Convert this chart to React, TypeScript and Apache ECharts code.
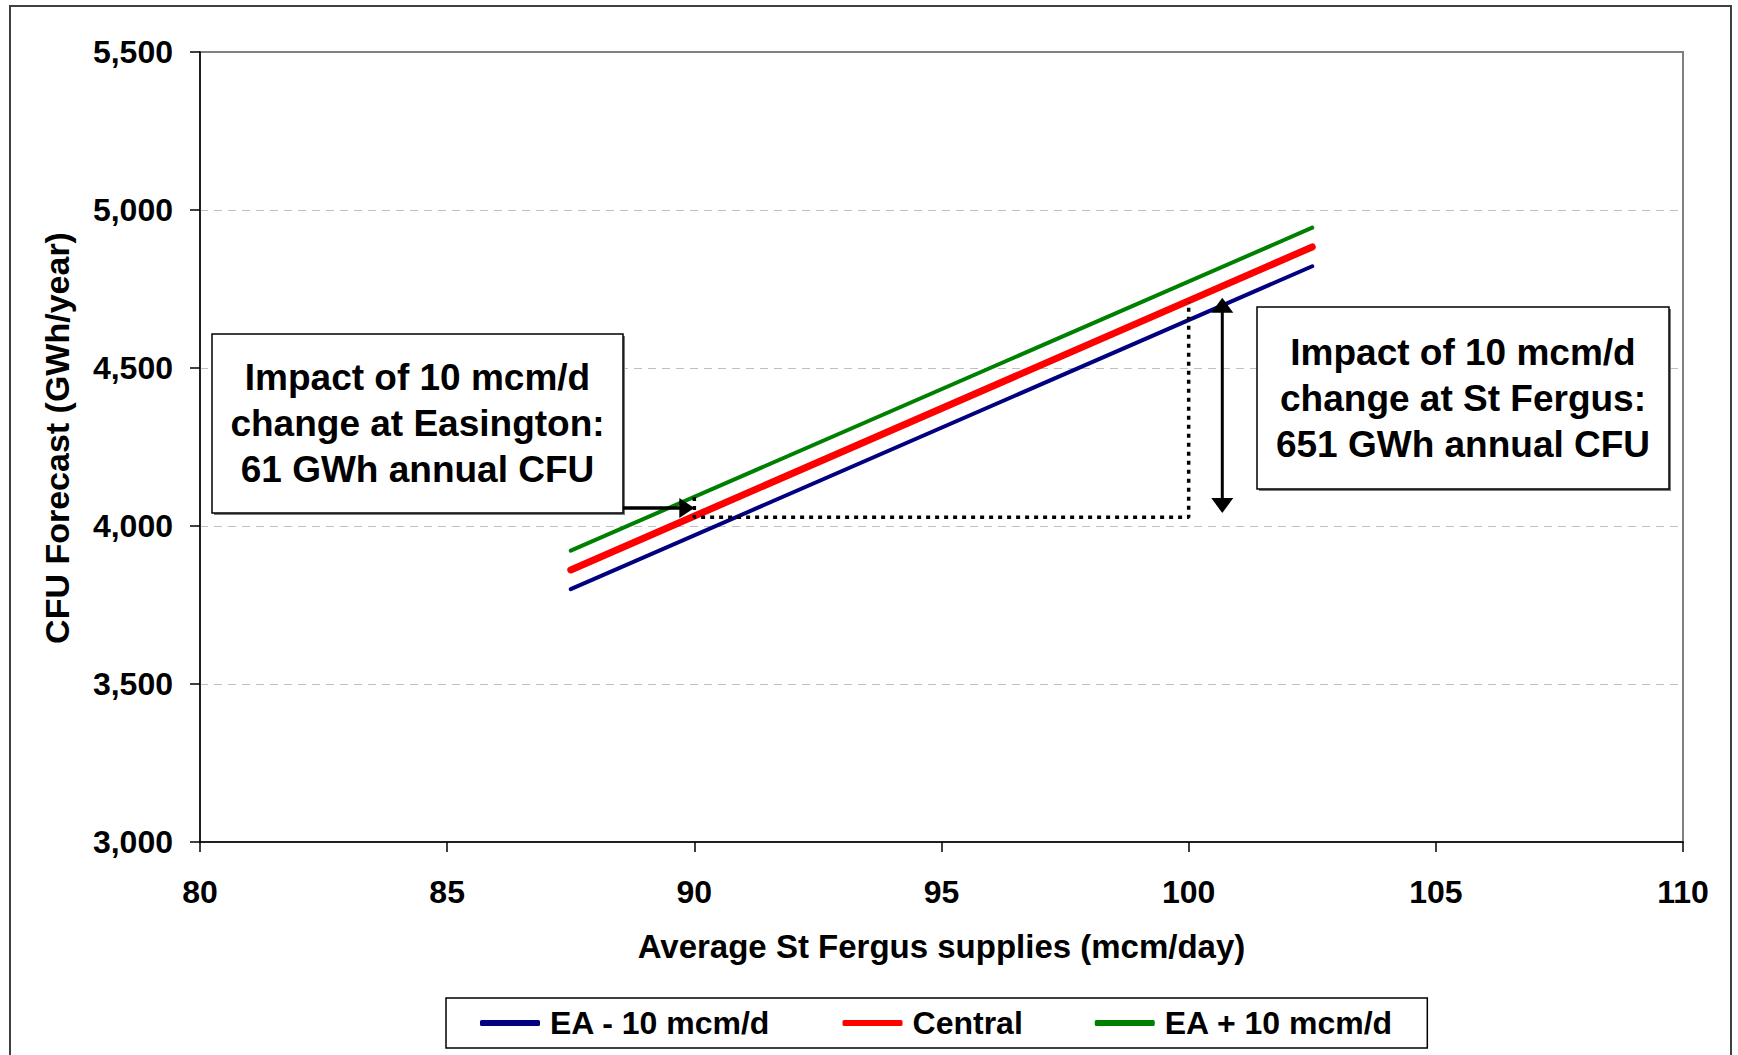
import React, { useEffect, useRef } from "react";
import * as echarts from "echarts";

// Axis ranges
const X_MIN = 80;
const X_MAX = 110;
const X_STEP = 5;
const Y_MIN = 3000;
const Y_MAX = 5500;
const Y_STEP = 500;

// Average St Fergus supplies (mcm/day) at the ends of each scenario line
const supplies = [87.5, 102.5];

// CFU forecast (GWh/year) per scenario
const cfuEaMinus = [3800, 4822];
const cfuCentral = [3861, 4883];
const cfuEaPlus = [3922, 4944];

const seriesNames = ["EA - 10 mcm/d", "Central", "EA + 10 mcm/d"];
const seriesColors = ["#000080", "#FF0000", "#008000"];

// Dotted guide following the central case from 90 to 100 mcm/d
const guideSupplies = [90, 90, 100, 100];
const guideCfu = [4092, 4028, 4028, 4709];

// Arrow anchors in data units
const easingtonArrowX = 90;
const easingtonArrowY = 4057;
const stFergusArrowX = 100.68;
const stFergusArrowLow = 4041;
const stFergusArrowHigh = 4722;

const easingtonNote = ["Impact of 10 mcm/d", "change at Easington:", "61 GWh annual CFU"];
const stFergusNote = ["Impact of 10 mcm/d", "change at St Fergus:", "651 GWh annual CFU"];

const FONT = '"Liberation Sans", Arial, Helvetica, sans-serif';

const pairs = (xs: number[], ys: number[]) => xs.map((x, i) => [x, ys[i]]);

export default function App() {
  const ref = useRef<HTMLDivElement>(null);

  useEffect(() => {
    if (!ref.current) return;
    const chart = echarts.init(ref.current, undefined, { renderer: "svg" });

    const lineSeries = [cfuEaMinus, cfuCentral, cfuEaPlus].map((vals, i) => ({
      name: seriesNames[i],
      type: "line",
      data: pairs(supplies, vals),
      symbol: "none",
      z: 3,
      lineStyle: { color: seriesColors[i], width: i === 1 ? 7 : 4, cap: "round" },
      itemStyle: { color: seriesColors[i] },
    }));

    chart.setOption({
      animation: false,
      backgroundColor: "#ffffff",
      textStyle: { fontFamily: FONT },
      grid: {
        left: 200,
        top: 52,
        width: 1483,
        height: 790,
        show: true,
        borderColor: "#808080",
        borderWidth: 2,
        backgroundColor: "transparent",
      },
      xAxis: {
        type: "value",
        min: X_MIN,
        max: X_MAX,
        interval: X_STEP,
        name: "Average St Fergus supplies (mcm/day)",
        nameLocation: "middle",
        nameGap: 88,
        nameTextStyle: { fontSize: 33, fontWeight: "bold", color: "#000", fontFamily: FONT },
        axisLine: { show: true, onZero: false, lineStyle: { color: "#000", width: 1.5 } },
        axisTick: { show: true, inside: false, length: 10, lineStyle: { color: "#000", width: 1.5 } },
        axisLabel: { fontSize: 32, fontWeight: "bold", color: "#000", margin: 34, fontFamily: FONT },
        splitLine: { show: false },
      },
      yAxis: {
        type: "value",
        min: Y_MIN,
        max: Y_MAX,
        interval: Y_STEP,
        name: "CFU Forecast (GWh/year)",
        nameLocation: "middle",
        nameGap: 126,
        nameTextStyle: {
          fontSize: 34,
          fontWeight: "bold",
          color: "#000",
          fontFamily: FONT,
          padding: [0, 0, 0, 18],
        },
        axisLine: { show: true, onZero: false, lineStyle: { color: "#000", width: 1.5 } },
        axisTick: { show: true, inside: false, length: 10, lineStyle: { color: "#000", width: 1.5 } },
        axisLabel: {
          fontSize: 32,
          fontWeight: "bold",
          color: "#000",
          margin: 27,
          fontFamily: FONT,
          formatter: (v: number) => v.toLocaleString("en-US"),
        },
        splitLine: {
          show: true,
          showMinLine: false,
          showMaxLine: false,
          lineStyle: { color: "#C0C0C0", width: 1, type: [8, 6] },
        },
      },
      legend: {
        data: seriesNames.map((name) => ({ name, icon: "roundRect" })),
        left: 446,
        top: 998,
        padding: [9, 34, 9, 34],
        itemGap: 72,
        itemWidth: 60,
        itemHeight: 6,
        borderColor: "#000",
        borderWidth: 1.5,
        borderRadius: 0,
        backgroundColor: "#ffffff",
        textStyle: {
          fontSize: 32,
          fontWeight: "bold",
          color: "#000",
          fontFamily: FONT,
          padding: [0, 0, 0, 5],
        },
      },
      series: [
        ...lineSeries,
        {
          name: "guide",
          type: "line",
          data: pairs(guideSupplies, guideCfu),
          symbol: "none",
          z: 4,
          lineStyle: { color: "#000", width: 3.5, type: [4, 5] },
          tooltip: { show: false },
        },
      ],
    });

    const px = (x: number, y: number) => chart.convertToPixel({ gridIndex: 0 }, [x, y]) as number[];

    const leftBox = { x: 212, y: 334, w: 411, h: 179 };
    const rightBox = { x: 1257, y: 307, w: 412, h: 182 };

    const [tipX, tipY] = px(easingtonArrowX, easingtonArrowY);
    const [ax, ayTop] = px(stFergusArrowX, stFergusArrowHigh);
    const [, ayBot] = px(stFergusArrowX, stFergusArrowLow);

    const noteBox = (b: { x: number; y: number; w: number; h: number }, lines: string[]) => [
      {
        type: "rect",
        z: 100,
        shape: { x: b.x + 2, y: b.y + 2, width: b.w, height: b.h },
        style: { fill: "#7a7a7a" },
      },
      {
        type: "rect",
        z: 101,
        shape: { x: b.x, y: b.y, width: b.w, height: b.h },
        style: { fill: "#ffffff", stroke: "#000", lineWidth: 1.5 },
      },
      {
        type: "text",
        z: 102,
        x: b.x + b.w / 2,
        y: b.y + b.h / 2,
        style: {
          text: lines.join("\n"),
          fill: "#000",
          fontSize: 37,
          fontWeight: "bold",
          fontFamily: FONT,
          align: "center",
          verticalAlign: "middle",
          lineHeight: 46,
        },
      },
    ];

    const headLen = 15;
    const headHalf = 10;

    chart.setOption({
      graphic: [
        {
          type: "rect",
          z: 200,
          silent: true,
          shape: { x: 10, y: 6, width: 1721, height: 1070 },
          style: { fill: "none", stroke: "#404040", lineWidth: 2 },
        },
        ...noteBox(leftBox, easingtonNote),
        ...noteBox(rightBox, stFergusNote),
        // Easington arrow
        {
          type: "line",
          z: 103,
          shape: { x1: leftBox.x + leftBox.w, y1: tipY, x2: tipX - headLen + 2, y2: tipY },
          style: { stroke: "#000", lineWidth: 3.5 },
        },
        {
          type: "polygon",
          z: 103,
          shape: {
            points: [
              [tipX, tipY],
              [tipX - headLen, tipY - headHalf],
              [tipX - headLen, tipY + headHalf],
            ],
          },
          style: { fill: "#000" },
        },
        // St Fergus double arrow
        {
          type: "line",
          z: 103,
          shape: { x1: ax, y1: ayTop + headLen - 2, x2: ax, y2: ayBot - headLen + 2 },
          style: { stroke: "#000", lineWidth: 3 },
        },
        {
          type: "polygon",
          z: 103,
          shape: {
            points: [
              [ax, ayTop],
              [ax - headHalf - 1, ayTop + headLen],
              [ax + headHalf + 1, ayTop + headLen],
            ],
          },
          style: { fill: "#000" },
        },
        {
          type: "polygon",
          z: 103,
          shape: {
            points: [
              [ax, ayBot],
              [ax - headHalf - 1, ayBot - headLen],
              [ax + headHalf + 1, ayBot - headLen],
            ],
          },
          style: { fill: "#000" },
        },
      ],
    });

    return () => chart.dispose();
  }, []);

  return (
    <div
      ref={ref}
      style={{ position: "absolute", left: 0, top: 0, width: 1738, height: 1055, background: "#fff" }}
    />
  );
}
